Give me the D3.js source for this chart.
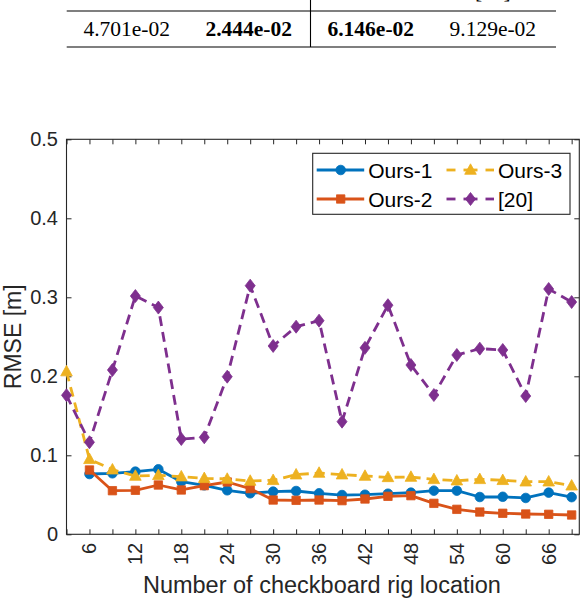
<!DOCTYPE html>
<html>
<head>
<meta charset="utf-8">
<script src="https://cdn.jsdelivr.net/npm/d3@7/dist/d3.min.js"></script>
<style>
html,body{margin:0;padding:0;background:#fff;}
svg{display:block;}
</style>
</head>
<body>
<svg id="chart" width="582" height="600"></svg>
<script>
// ---- data ----
const tableHeader = ["Ours-1", "Ours-2", "Ours-3", "[20]"];
const tableValues = ["4.701e-02", "2.444e-02", "6.146e-02", "9.129e-02"];
const tableBold = [false, true, true, false];

const xValues = [3, 6, 9, 12, 15, 18, 21, 24, 27, 30, 33, 36, 39, 42, 45, 48, 51, 54, 57, 60, 63, 66, 69];
const ours1 = [null, 0.0763, 0.0772, 0.0793, 0.0823, 0.0666, 0.0620, 0.0557, 0.0519, 0.0540, 0.0548, 0.0519, 0.0497, 0.0501, 0.0514, 0.0527, 0.0552, 0.0552, 0.0472, 0.0475, 0.0460, 0.0527, 0.04701];
const ours2 = [null, 0.0814, 0.0552, 0.0557, 0.0624, 0.0561, 0.0616, 0.0662, 0.0578, 0.0434, 0.0430, 0.0434, 0.0426, 0.0447, 0.0481, 0.0489, 0.0392, 0.0316, 0.0282, 0.0266, 0.0257, 0.0253, 0.02444];
const ours3 = [0.206, 0.0950, 0.0818, 0.0738, 0.0747, 0.0730, 0.0709, 0.0700, 0.0675, 0.0684, 0.0755, 0.0776, 0.0755, 0.0738, 0.0721, 0.0725, 0.0696, 0.0679, 0.0696, 0.0684, 0.0666, 0.0666, 0.06146];
const ref20 = [0.176, 0.1165, 0.208, 0.3016, 0.287, 0.1206, 0.1228, 0.1995, 0.3147, 0.2384, 0.2628, 0.2704, 0.1426, 0.236, 0.290, 0.2143, 0.1763, 0.227, 0.235, 0.2333, 0.175, 0.3105, 0.294];

const seriesNames = ["Ours-1", "Ours-2", "Ours-3", "[20]"];
const seriesColors = ["#0072BD", "#D95319", "#EDB120", "#7E2F8E"];
const seriesDashed = [false, false, true, true];
const seriesMarkers = ["circle", "square", "triangle", "diamond"];

const xTicks = [3, 6, 9, 12, 15, 18, 21, 24, 27, 30, 33, 36, 39, 42, 45, 48, 51, 54, 57, 60, 63, 66, 69];
const xTickLabels = [6, 12, 18, 24, 30, 36, 42, 48, 54, 60, 66];
const yTicks = [0, 0.1, 0.2, 0.3, 0.4, 0.5];
const xDomain = [3, 70];
const yDomain = [0, 0.5];

// ---- drawing ----
const svg = d3.select("#chart");
const axisColor = "#262626";
const sans = "'Liberation Sans', Arial, Helvetica, sans-serif";
const serif = "'Liberation Serif', 'Times New Roman', serif";

// table fragment (header row is cut by the top edge, as in the reference)
const tbl = svg.append("g");
const colCenters = d3.scalePoint().domain(d3.range(4)).range([126.7, 492.8]);
tbl.append("line").attr("x1", 66.7).attr("x2", 556).attr("y1", 11).attr("y2", 11)
  .attr("stroke", "#000").attr("stroke-width", 1.1);
tbl.append("line").attr("x1", 66.7).attr("x2", 556).attr("y1", 47).attr("y2", 47)
  .attr("stroke", "#000").attr("stroke-width", 1.1);
tbl.append("line").attr("x1", 310.5).attr("x2", 310.5).attr("y1", 0).attr("y2", 47)
  .attr("stroke", "#000").attr("stroke-width", 1.1);
tbl.selectAll("text.hdr").data(tableHeader).join("text")
  .attr("class", "hdr")
  .attr("x", (d, i) => colCenters(i)).attr("y", -2)
  .attr("text-anchor", "middle")
  .attr("font-family", serif).attr("font-size", 21.5)
  .attr("fill", "#000").text(d => d);
tbl.selectAll("text.val").data(tableValues).join("text")
  .attr("class", "val")
  .attr("x", (d, i) => colCenters(i)).attr("y", 35.7)
  .attr("text-anchor", "middle")
  .attr("font-family", serif).attr("font-size", 21.5)
  .attr("font-weight", (d, i) => tableBold[i] ? "bold" : "normal")
  .attr("fill", "#000").text(d => d);

// axes
const L = 66.5, R = 579.3, T = 139.3, B = 534.3;
const x = d3.scaleLinear().domain(xDomain).range([L, R]);
const y = d3.scaleLinear().domain(yDomain).range([B, T]);

const tickLen = 5;
const gAx = svg.append("g");

const bottomAxis = d3.axisBottom(x).tickValues(xTicks).tickSize(-tickLen).tickSizeOuter(0).tickFormat("");
gAx.append("g").attr("transform", `translate(0,${B})`).call(bottomAxis);
const topAxis = d3.axisTop(x).tickValues(xTicks).tickSize(-tickLen).tickSizeOuter(0).tickFormat("");
gAx.append("g").attr("transform", `translate(0,${T})`).call(topAxis);
const leftAxis = d3.axisLeft(y).tickValues(yTicks).tickSize(-tickLen).tickSizeOuter(0).tickFormat("");
gAx.append("g").attr("transform", `translate(${L},0)`).call(leftAxis);
const rightAxis = d3.axisRight(y).tickValues(yTicks).tickSize(-tickLen).tickSizeOuter(0).tickFormat("");
gAx.append("g").attr("transform", `translate(${R},0)`).call(rightAxis);
gAx.selectAll("path.domain").remove();
gAx.selectAll(".tick line").attr("stroke", axisColor).attr("stroke-width", 1);

gAx.append("rect").attr("x", L).attr("y", T).attr("width", R - L).attr("height", B - T)
  .attr("fill", "none").attr("stroke", axisColor).attr("stroke-width", 1.1);

// y tick labels
svg.append("g").selectAll("text").data(yTicks).join("text")
  .attr("x", L - 8.5).attr("y", d => y(d))
  .attr("text-anchor", "end").attr("dominant-baseline", "central")
  .attr("font-family", sans).attr("font-size", 20).attr("fill", axisColor)
  .text(d => d === 0 ? "0" : d3.format(".1f")(d));

// x tick labels (rotated)
svg.append("g").selectAll("text").data(xTickLabels).join("text")
  .attr("transform", d => `translate(${x(d)},${B + 8.5}) rotate(-90)`)
  .attr("text-anchor", "end").attr("dominant-baseline", "central")
  .attr("font-family", sans).attr("font-size", 20).attr("fill", axisColor)
  .text(d => d);

// axis labels
svg.append("text")
  .attr("x", (L + R) / 2 - 1).attr("y", 592.5)
  .attr("text-anchor", "middle")
  .attr("font-family", sans).attr("font-size", 23.5).attr("fill", axisColor)
  .text("Number of checkboard rig location");
svg.append("text")
  .attr("transform", `translate(20.5,${(T + B) / 2}) rotate(-90)`)
  .attr("text-anchor", "middle")
  .attr("font-family", sans).attr("font-size", 23).attr("fill", axisColor)
  .text("RMSE [m]");

// markers
function markerPath(type) {
  switch (type) {
    case "circle": return "M4.8,0A4.8,4.8 0 1,1 -4.8,0A4.8,4.8 0 1,1 4.8,0Z";
    case "square": return "M-4.2,-4.2L4.2,-4.2L4.2,4.2L-4.2,4.2Z";
    case "triangle": return "M0,-6.2L5.8,4.3L-5.8,4.3Z";
    case "diamond": return "M0,-6.5L5,0L0,6.5L-5,0Z";
  }
}

const allSeries = [ours1, ours2, ours3, ref20];
const plot = svg.append("g");
const line = d3.line().defined(d => d[1] != null).x(d => x(d[0])).y(d => y(d[1]));
const dashPattern = "10,6";

allSeries.forEach((vals, si) => {
  const pts = xValues.map((xv, i) => [xv, vals[i]]);
  const g = plot.append("g");
  g.append("path").datum(pts)
    .attr("d", line)
    .attr("fill", "none")
    .attr("stroke", seriesColors[si])
    .attr("stroke-width", 2.8)
    .attr("stroke-linejoin", "round")
    .attr("stroke-dasharray", seriesDashed[si] ? dashPattern : null);
  g.selectAll("path.m").data(pts.filter(d => d[1] != null)).join("path")
    .attr("class", "m")
    .attr("transform", d => `translate(${x(d[0])},${y(d[1])})`)
    .attr("d", markerPath(seriesMarkers[si]))
    .attr("fill", seriesColors[si])
    .attr("stroke", seriesColors[si])
    .attr("stroke-width", 0.8);
});

// legend
const lg = svg.append("g");
lg.append("rect").attr("x", 312.7).attr("y", 153.3).attr("width", 570 - 312.7).attr("height", 214.3 - 153.3)
  .attr("fill", "#fff").attr("stroke", axisColor).attr("stroke-width", 1.1);
const legendPos = [
  { lx: 316.7, ly: 170 },
  { lx: 316.7, ly: 199 },
  { lx: 446.5, ly: 170 },
  { lx: 446.5, ly: 199 }
];
seriesNames.forEach((name, si) => {
  const p = legendPos[si];
  const g = lg.append("g");
  if (seriesDashed[si]) {
    [[p.lx, p.lx + 9], [p.lx + 17, p.lx + 31], [p.lx + 39, p.lx + 47.5]].forEach(seg => {
      g.append("line").attr("x1", seg[0]).attr("x2", seg[1]).attr("y1", p.ly).attr("y2", p.ly)
        .attr("stroke", seriesColors[si]).attr("stroke-width", 2.8);
    });
  } else {
    g.append("line").attr("x1", p.lx).attr("x2", p.lx + 47.5).attr("y1", p.ly).attr("y2", p.ly)
      .attr("stroke", seriesColors[si]).attr("stroke-width", 2.8);
  }
  g.append("path").attr("transform", `translate(${p.lx + 24},${p.ly})`)
    .attr("d", markerPath(seriesMarkers[si]))
    .attr("fill", seriesColors[si]).attr("stroke", seriesColors[si]).attr("stroke-width", 0.8);
  g.append("text").attr("x", p.lx + 51.5).attr("y", p.ly)
    .attr("dominant-baseline", "central")
    .attr("font-family", sans).attr("font-size", 21).attr("fill", "#000")
    .text(name);
});
</script>
</body>
</html>
